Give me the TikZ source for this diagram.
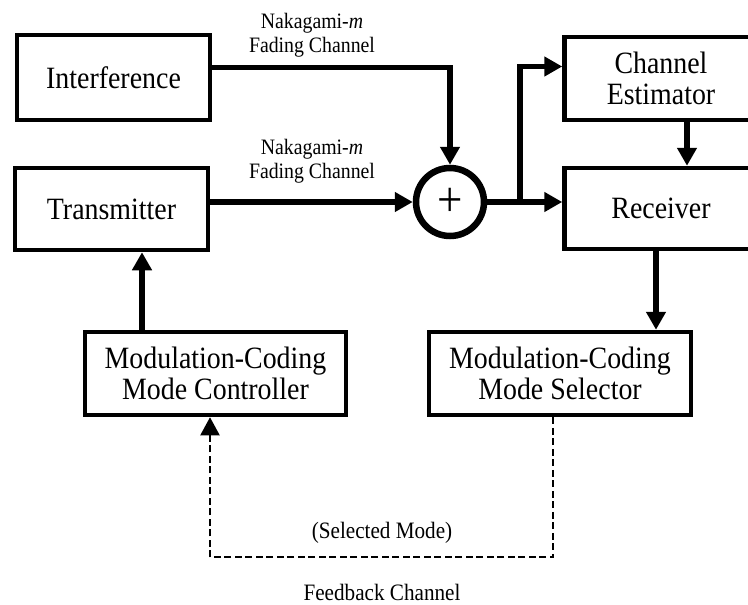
\documentclass[tikz,border=0pt]{standalone}
\usepackage{fontspec}
\setmainfont{Liberation Serif}[FakeStretch=0.9]
\usetikzlibrary{arrows.meta,positioning,calc}
\tikzset{
    block/.style  = {rectangle, draw=black, line width=4.5pt, inner sep=0pt, align=center,
                     font=\fontsize{31}{31}\selectfont},
    wide/.style   = {block, minimum width=193pt, minimum height=83pt},
    mcblock/.style = {block, minimum width=262pt, minimum height=83pt},
    chlabel/.style = {align=center, font=\fontsize{22}{24}\selectfont}
}

\begin{document}
\begin{tikzpicture}[
        x=1pt, y=-1pt,
        line/.style={-{Triangle[length=18pt,width=19pt]}, line width=5.5pt},
        fbline/.style={-{Triangle[length=18pt,width=19pt]}, line width=2pt, dash pattern=on 7pt off 3.5pt},
        adder/.style={circle, draw=black, line width=6.5pt, minimum size=68pt, inner sep=0pt,
                      font=\fontsize{50}{50}\selectfont},
        fblabel/.style={font=\fontsize{23.5}{26}\selectfont}
    ]
    \clip (0,0) rectangle (748,605);

    % --- Blocks ---
    \node[wide, minimum height=85pt] (interf) at (113.5, 77.5) {Interference};
    \node[wide, minimum height=82pt] (trans) at (111.5, 209) {Transmitter};
    \node[adder] (sum) at (450, 202) {+};
    \node[wide] (chest) at (661, 78.5) {Channel\\Estimator};
    \node[wide, minimum height=81pt] (recv) at (661, 208.5) {Receiver};
    \node[mcblock, minimum width=261pt] (ctrl) at (215.5, 373.5) {Modulation-Coding\\Mode Controller};
    \node[mcblock] (sel) at (560, 373.5) {Modulation-Coding\\Mode Selector};

    % --- Channel labels ---
    \node[chlabel] (fadei) at (312, 35) {Nakagami-\textit{m}\\Fading Channel};
    \node[chlabel] (fadet) at (312, 161) {Nakagami-\textit{m}\\Fading Channel};
    \node[fblabel] (selmode) at (382, 533) {(Selected Mode)};
    \node[fblabel] (fbch) at (382, 592) {Feedback Channel};

    % --- Forward path ---
    \draw[line] ([yshift=10pt]interf.east) -| (sum.north);
    \draw[line] (trans.east |- sum.west) -- (sum.west);
    \draw[line] (sum.east) -- (sum.east -| recv.west);
    \coordinate (split) at (520, 202);
    \draw[line] (split) |- ([yshift=12pt]chest.west);
    \draw[line] ([xshift=26pt]chest.south) -- ([xshift=26pt]recv.north);
    \draw[line] ([xshift=-5pt]recv.south) -- ([xshift=-5pt]recv.south |- sel.north);
    \draw[line] ([xshift=-73.5pt]ctrl.north) -- ([xshift=-73.5pt]ctrl.north |- trans.south);

    % Feedback routing
    \draw[fbline] ([xshift=-7pt]sel.south) -- ++(0,140) -| ([xshift=-5.5pt]ctrl.south);
\end{tikzpicture}
\end{document}
